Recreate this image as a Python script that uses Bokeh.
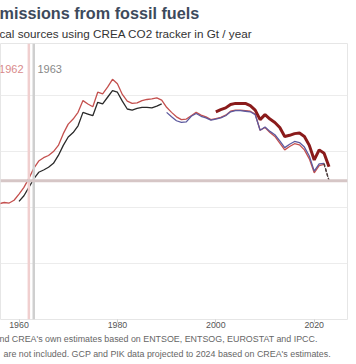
from bokeh.plotting import figure
from bokeh.models import Range1d, Span, Label, FixedTicker, Title
from bokeh.embed import file_html
from bokeh.resources import INLINE

# ---- data (Gt CO2 / year) ----
gcp_years = list(range(1955, 2023))
gcp_vals = [2.03, 2.07, 2.09, 2.08, 2.13,
            2.24, 2.36, 2.52, 2.70, 2.83, 2.89, 2.93, 3.00, 3.11, 3.32,
            3.49, 3.58, 3.70, 3.91, 3.85, 3.80, 4.06, 4.03, 4.15, 4.29,
            4.21, 4.02, 3.90, 3.86, 3.87, 3.91, 3.93, 3.94, 3.96, 3.92,
            3.79, 3.70, 3.62, 3.57, 3.58, 3.64, 3.70, 3.65, 3.62, 3.57,
            3.59, 3.61, 3.65, 3.72, 3.74, 3.74, 3.73, 3.72, 3.67, 3.38,
            3.43, 3.34, 3.27, 3.15, 3.03, 3.09, 3.14, 3.12, 3.03, 2.87,
            2.62, 2.75, 2.77]

pik_early_years = list(range(1960, 1990))
pik_early_vals = [2.11, 2.21, 2.36, 2.51, 2.63, 2.67, 2.72, 2.79, 2.93, 3.11,
                  3.26, 3.34, 3.46, 3.70, 3.67, 3.64, 3.88, 3.85, 3.97, 4.09,
                  4.06, 3.90, 3.76, 3.74, 3.77, 3.79, 3.79, 3.78, 3.81, 3.85]

pik_years = list(range(1990, 2023))
pik_vals = [3.70, 3.62, 3.55, 3.52, 3.53, 3.63, 3.68, 3.63, 3.60, 3.56,
            3.58, 3.60, 3.64, 3.71, 3.73, 3.73, 3.72, 3.71, 3.66, 3.38,
            3.44, 3.36, 3.30, 3.19, 3.07, 3.13, 3.18, 3.16, 3.08, 2.92,
            2.65, 2.78, 2.79]

crea_years = list(range(2000, 2024))
crea_vals = [3.71, 3.75, 3.78, 3.84, 3.86, 3.86, 3.86, 3.82, 3.74, 3.57,
             3.66, 3.58, 3.52, 3.43, 3.27, 3.29, 3.32, 3.33, 3.27, 3.11,
             2.85, 3.03, 2.97, 2.73]

proj_years = [2022, 2023]
gcp_proj_vals = [2.77, 2.48]
pik_proj_vals = [2.79, 2.48]

current_level = 2.48
match_years = [1962, 1963]
match_labels = ["1962", "1963"]
x_ticks = [1960, 1980, 2000, 2020]

title_text = "missions from fossil fuels"
subtitle_text = "cal sources using CREA CO2 tracker in Gt / year"
note1 = "nd CREA's own estimates based on ENTSOE, ENTSOG, EUROSTAT and IPCC."
note2 = "are not included. GCP and PIK data projected to 2024 based on CREA's estimates."

FONT = "Liberation Sans"

p = figure(width=356, height=364, output_backend="svg", toolbar_location=None,
           x_range=Range1d(1956.24, 2026.76), y_range=Range1d(0, 4.93),
           y_axis_location=None,
           min_border_left=0, min_border_right=9, min_border_top=43, min_border_bottom=45)
p.background_fill_color = "white"
p.border_fill_color = "white"
p.outline_line_color = "#e6e6e6"
p.xgrid.grid_line_color = None
p.ygrid.grid_line_color = "#ececec"
p.ygrid.ticker = FixedTicker(ticks=[0, 1, 2, 3, 4])

ax = p.xaxis[0]
ax.ticker = FixedTicker(ticks=x_ticks)
ax.axis_line_color = None
ax.major_tick_line_color = "#cccccc"
ax.major_tick_out = 3
ax.major_tick_in = 0
ax.minor_tick_line_color = None
ax.major_label_text_font = FONT
ax.major_label_text_font_size = "8.8px"
ax.major_label_text_color = "#555555"
ax.major_label_standoff = -1

# titles above (added nearest-first) and notes below
p.add_layout(Title(text=subtitle_text, text_font=FONT, text_font_size="11.7px",
                   text_font_style="normal", text_color="#333333", align="left",
                   offset=-1, standoff=7), "above")
p.add_layout(Title(text=title_text, text_font=FONT, text_font_size="16.2px",
                   text_font_style="bold", text_color="#3d4a5c", align="left",
                   offset=-1, standoff=0), "above")
p.add_layout(Title(text=note1, text_font=FONT, text_font_size="8.9px",
                   text_font_style="normal", text_color="#666666", align="left",
                   offset=-1, standoff=2), "below")
p.add_layout(Title(text=note2, text_font=FONT, text_font_size="8.9px",
                   text_font_style="normal", text_color="#666666", align="left",
                   offset=3, standoff=4), "below")

# reference lines
p.add_layout(Span(location=match_years[0], dimension="height", line_color="#f0cfcf", line_width=2.5))
p.add_layout(Span(location=match_years[1], dimension="height", line_color="#cfcfcf", line_width=2.5))
p.add_layout(Span(location=current_level, dimension="width", line_color="#d6c6c6", line_width=3))

# series
p.line(gcp_years, gcp_vals, line_color="#c4504e", line_width=1.3)
p.line(pik_early_years, pik_early_vals, line_color="#2a2a2a", line_width=1.3)
p.line(pik_years, pik_vals, line_color="#5d5a9e", line_width=1.3)
p.line(crea_years, crea_vals, line_color="#8a1b1b", line_width=3)
p.line(proj_years, gcp_proj_vals, line_color="#4a3b3b", line_width=1.3, line_dash="3 2")
p.line(proj_years, pik_proj_vals, line_color="#4a3b3b", line_width=1.3, line_dash="3 2")


def add_frame_text(text, x, y, color, align):
    # screen units relative to the plot frame (x from left, y from bottom)
    p.add_layout(Label(x=x, y=y, x_units="screen", y_units="screen", text=text,
                       text_font=FONT, text_font_size="11px", text_color=color,
                       text_align=align, text_baseline="middle"))


add_frame_text(match_labels[0], 23, 251, "#d98a8a", "right")
add_frame_text(match_labels[1], 37, 251, "#888888", "left")

open("out.html", "w").write(file_html(p, INLINE))
